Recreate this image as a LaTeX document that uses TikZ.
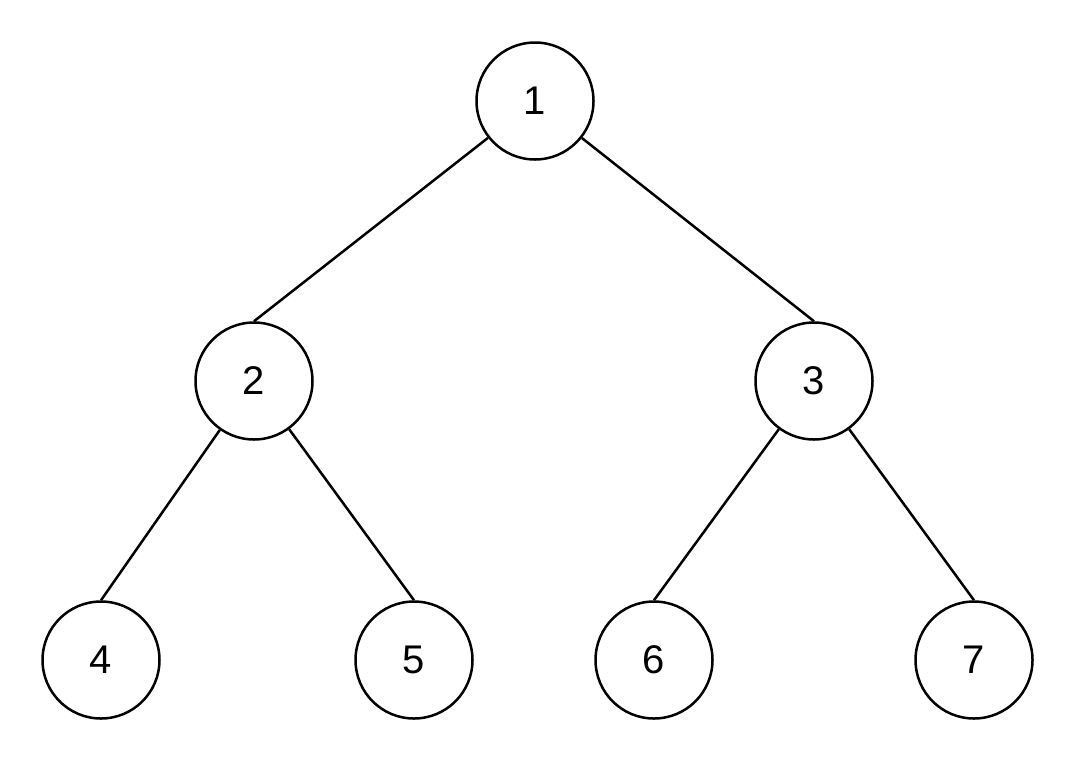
\documentclass[tikz,border=0pt]{standalone}
\usepackage{fontspec}
\setmainfont{Liberation Sans}
\begin{document}
\begin{tikzpicture}[x=1pt,y=-1pt,
  tn/.style={circle,draw,line width=2.5pt,minimum size=117pt,inner sep=0pt,font=\fontsize{40}{48}\selectfont},
  ed/.style={line width=2.5pt}]
\useasboundingbox (0,0) rectangle (1076,764);
\node[tn] (n1) at (535,101) {1};
\node[tn] (n2) at (254,381) {2};
\node[tn] (n3) at (814,381) {3};
\node[tn] (n4) at (101,660) {4};
\node[tn] (n5) at (414,660) {5};
\node[tn] (n6) at (654,660) {6};
\node[tn] (n7) at (974,660) {7};
\draw[ed] (n1) -- (n2.north);
\draw[ed] (n1) -- (n3.north);
\draw[ed] (n2) -- (n4.north);
\draw[ed] (n2) -- (n5.north);
\draw[ed] (n3) -- (n6.north);
\draw[ed] (n3) -- (n7.north);
\end{tikzpicture}
\end{document}
